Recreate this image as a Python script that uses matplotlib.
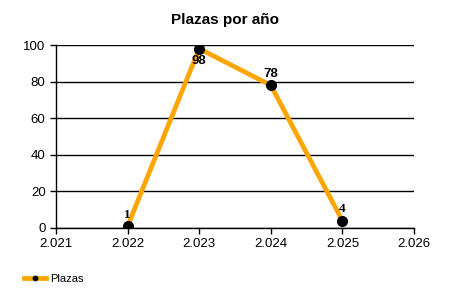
import matplotlib.pyplot as plt

years = [2022, 2023, 2024, 2025]
plazas = [1, 98, 78, 4]
x_ticks = [2021, 2022, 2023, 2024, 2025, 2026]
x_labels = ["2.021", "2.022", "2.023", "2.024", "2.025", "2.026"]
y_ticks = [0, 20, 40, 60, 80, 100]


def main():
	plt.rcParams['font.family'] = ['Liberation Sans', 'DejaVu Sans']
	fig = plt.figure(figsize=(4.5, 3), dpi=100)
	ax = fig.add_axes([0.1244, 0.24, 0.7956, 0.61])

	ax.plot(years, plazas, color='#FFA500', linewidth=3.4, marker='o',
			markersize=7, markerfacecolor='black', markeredgecolor='black',
			label='Plazas', solid_joinstyle='miter', zorder=3)

	for x, y in zip(years, plazas):
		off = -13 if y > 90 else 4
		ax.annotate(str(y), (x, y), xytext=(0, off), textcoords='offset points',
					ha='center', va='bottom', fontsize=9.5, fontweight='bold',
					family=['Liberation Serif'] if y < 10 else ['Liberation Sans'])

	ax.set_xlim(2021, 2026)
	ax.set_ylim(0, 100)
	ax.set_xticks(x_ticks)
	ax.set_xticklabels(x_labels)
	ax.set_yticks(y_ticks)
	ax.yaxis.grid(True, color='black', linewidth=1)
	ax.set_axisbelow(True)
	for s in ['top', 'right']:
		ax.spines[s].set_visible(False)
	ax.spines['left'].set_linewidth(1)
	ax.spines['bottom'].set_linewidth(1)
	ax.tick_params(axis='both', labelsize=9.5, length=4, width=1, direction='out')

	fig.text(0.5, 0.933, 'Plazas por año', ha='center', va='center',
			 fontsize=11, fontweight='bold')

	fig.legend(loc='lower left', bbox_to_anchor=(0.03, 0.02), frameon=False,
			   fontsize=8, handlelength=2, handletextpad=0.4, markerscale=0.45)

	fig.savefig('out.png', dpi=100, facecolor='white')


if __name__ == "__main__":
	main()
